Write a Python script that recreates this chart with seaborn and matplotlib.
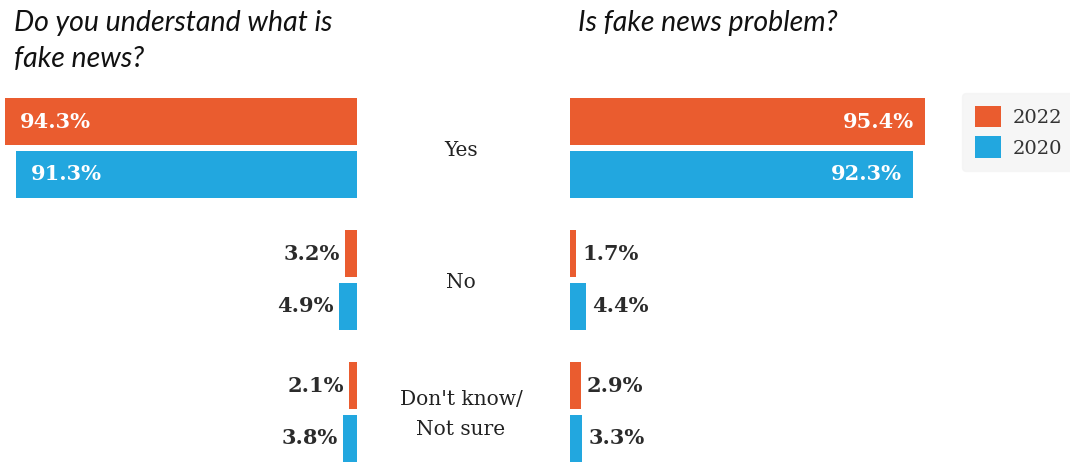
import matplotlib
matplotlib.use("Agg")
import matplotlib.pyplot as plt
from matplotlib.patches import Patch
from matplotlib.transforms import blended_transform_factory
import pandas as pd
import seaborn as sns

# Survey answers and shares (%) per year
categories = ["Yes", "No", "Don't know/\nNot sure"]
years = ["2022", "2020"]
understand_2022 = [94.3, 3.2, 2.1]
understand_2020 = [91.3, 4.9, 3.8]
problem_2022 = [95.4, 1.7, 2.9]
problem_2020 = [92.3, 4.4, 3.3]
titles = ["Do you understand what is\nfake news?", "Is fake news problem?"]

colors = {"2022": "#EA5C2F", "2020": "#22A7DF"}


def long_frame(v2022, v2020):
    rows = []
    for c, a, b in zip(categories, v2022, v2020):
        rows.append({"answer": c, "year": "2022", "share": a})
        rows.append({"answer": c, "year": "2020", "share": b})
    return pd.DataFrame(rows)


sns.set_theme(style="white")
W, H = 1070, 463
fig = plt.figure(figsize=(W / 100, H / 100), dpi=100)

ax_top = 1 - 82 / H
ax_l = fig.add_axes([0, 0, 357 / W, ax_top])
ax_r = fig.add_axes([570 / W, 0, 370 / W, ax_top])

for ax, (v22, v20) in [(ax_l, (understand_2022, understand_2020)),
                       (ax_r, (problem_2022, problem_2020))]:
    sns.barplot(data=long_frame(v22, v20), y="answer", x="share", hue="year",
                order=categories, hue_order=years, palette=colors,
                orient="h", width=0.8, gap=0.11, saturation=1,
                linewidth=0, legend=False, ax=ax)
    ax.set_ylim(2 + (H - 412) / 132, -0.5)
    for s in ax.spines.values():
        s.set_visible(False)
    ax.set_xticks([])
    ax.set_yticks([])
    ax.set_xlabel("")
    ax.set_ylabel("")
    ax.patch.set_alpha(0)

ax_l.set_xlim(357 / 3.733, 0)
ax_r.set_xlim(0, 370 / 3.72)

px = 72 / 100  # points per pixel
label_font = dict(family="DejaVu Serif", fontweight="bold", fontsize=15)

for ax, sign in [(ax_l, -1), (ax_r, 1)]:
    for container in ax.containers:
        for bar in container:
            val = bar.get_width()
            yc = bar.get_y() + bar.get_height() / 2
            txt = f"{val:.1f}%"
            if val > 50:
                off = (-11 if sign > 0 else 15) * px
                ha = "right" if sign > 0 else "left"
                color = "white"
            else:
                off = (6 if sign > 0 else -5) * px
                ha = "left" if sign > 0 else "right"
                color = "#2b2b2b"
            ax.annotate(txt, xy=(val, yc), xytext=(off, 0),
                        textcoords="offset points", ha=ha, va="center",
                        color=color, **label_font)

# Answer labels in the centre column
trans = blended_transform_factory(fig.transFigure, ax_l.transData)
for i, c in enumerate(categories):
    ax_l.text(461 / W, i + 0.02, c, transform=trans, ha="center", va="center",
              family="DejaVu Serif", fontsize=14.5, color="#222222",
              linespacing=1.75, clip_on=False)

# Panel titles
fig.text(14 / W, 1 - 10 / H, titles[0], ha="left", va="top",
         family="Lato", style="italic", fontsize=20.5, color="#111111",
         linespacing=1.5)
fig.text(578 / W, 1 - 10 / H, titles[1], ha="left", va="top",
         family="Lato", style="italic", fontsize=20.5, color="#111111")

handles = [Patch(facecolor=colors[y], edgecolor="none", label=y) for y in years]
leg = fig.legend(handles=handles, loc="upper left",
                 bbox_to_anchor=(962 / W, 1 - 93 / H), borderaxespad=0,
                 frameon=True, fancybox=True, borderpad=0.65,
                 handlelength=1.34, handleheight=1.34, handletextpad=0.6,
                 labelspacing=0.46,
                 prop={"family": "DejaVu Serif", "size": 14})
leg.get_frame().set_facecolor("#F4F4F4")
leg.get_frame().set_edgecolor("#F4F4F4")
for t in leg.get_texts():
    t.set_color("#333333")

fig.savefig("out.png", dpi=100)
